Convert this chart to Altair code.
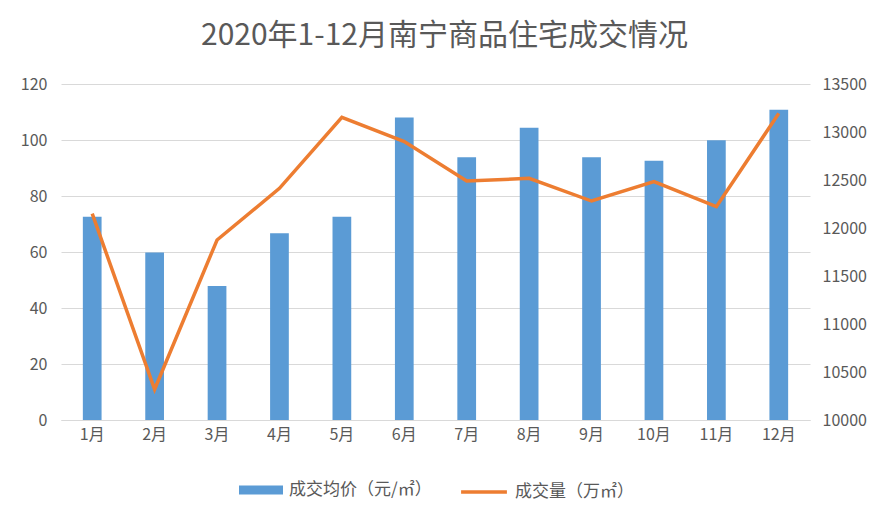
import altair as alt
import pandas as pd

months = ["1月", "2月", "3月", "4月", "5月", "6月", "7月", "8月", "9月", "10月", "11月", "12月"]
price = [72.6, 59.8, 47.9, 66.7, 72.6, 108.0, 93.8, 104.4, 93.8, 92.6, 99.9, 110.8]
volume = [12150, 10320, 11875, 12413, 13153, 12900, 12490, 12517, 12281, 12483, 12222, 13194]
bar_name = "成交均价（元/㎡）"
line_name = "成交量（万㎡）"

df = pd.DataFrame({"month": months, "price": price, "volume": volume,
                   "s1": bar_name, "s2": line_name})

FONT = "Noto Sans CJK SC"
GREY = "#595959"

x = alt.X("month:N", sort=months, title=None,
          scale=alt.Scale(paddingInner=0.7, paddingOuter=0.35),
          axis=alt.Axis(labelAngle=0, labelFontSize=16, labelColor=GREY, labelFont=FONT,
                        domain=True, domainColor="#D9D9D9", ticks=False, labelPadding=6))

bars = alt.Chart(df).mark_bar(color="#5B9BD5").encode(
    x=x,
    y=alt.Y("price:Q", title=None,
            scale=alt.Scale(domain=[0, 120], nice=False),
            axis=alt.Axis(values=[0, 20, 40, 60, 80, 100, 120], orient="left",
                          grid=True, gridColor="#D9D9D9", domain=False, ticks=False,
                          labelFontSize=16, labelColor=GREY, labelFont=FONT, labelPadding=14)),
    color=alt.Color("s1:N", title=None,
                    scale=alt.Scale(domain=[bar_name], range=["#5B9BD5"]),
                    legend=alt.Legend(orient="none", legendX=178, legendY=384,
                                      symbolType="M-1,-0.2H1V0.2H-1Z", symbolSize=1936,
                                      symbolStrokeWidth=0, labelFontSize=17, labelColor=GREY,
                                      labelFont=FONT, padding=0, symbolOffset=0, labelOffset=6)),
)

line = alt.Chart(df).mark_line(strokeWidth=3.5, color="#ED7D31").encode(
    x=x,
    y=alt.Y("volume:Q", title=None,
            scale=alt.Scale(domain=[10000, 13500], nice=False, zero=False),
            axis=alt.Axis(values=[10000, 10500, 11000, 11500, 12000, 12500, 13000, 13500],
                          orient="right", grid=False, domain=False, ticks=False, format="d",
                          labelFontSize=16, labelColor=GREY, labelFont=FONT, labelPadding=12)),
    stroke=alt.Stroke("s2:N", title=None,
                      scale=alt.Scale(domain=[line_name], range=["#ED7D31"]),
                      legend=alt.Legend(orient="none", legendX=398, legendY=383,
                                        symbolType="stroke", symbolSize=2100,
                                        symbolStrokeWidth=3.5, labelFontSize=17, labelColor=GREY,
                                        labelFont=FONT, padding=0, labelOffset=6)),
)

chart = alt.layer(bars, line).resolve_scale(y="independent", color="independent").properties(
    width=749, height=336,
    background="white",
    autosize=alt.AutoSizeParams(type="none"),
    padding={"left": 53, "top": 76, "right": 74, "bottom": 94},
    title=alt.TitleParams("2020年1-12月南宁商品住宅成交情况", fontSize=30, font=FONT,
                          fontWeight="normal", color=GREY, offset=25, dx=9, anchor="middle"),
).configure_view(strokeWidth=0, stroke=None)

chart.save("out.html", embed_options={"renderer": "svg", "actions": False})
